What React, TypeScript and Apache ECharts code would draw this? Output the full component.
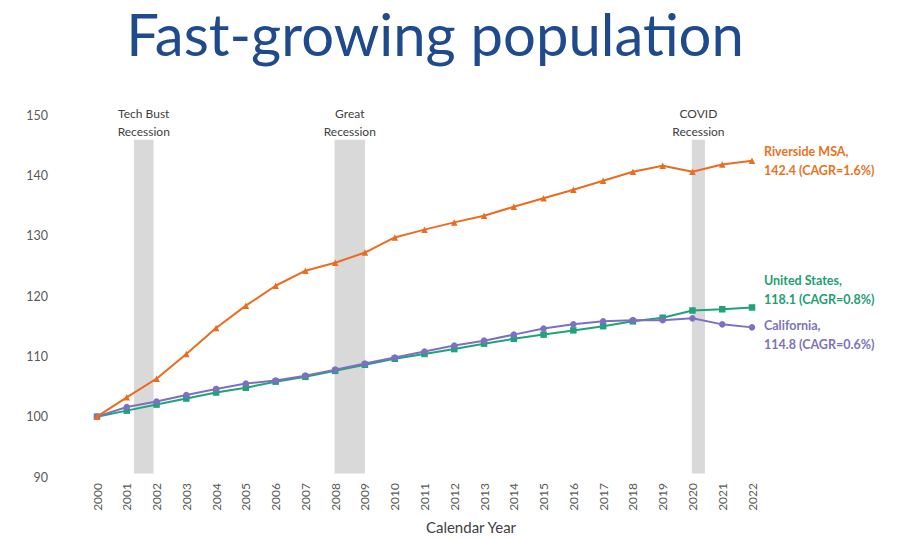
import React, { useEffect, useRef } from "react";
import * as echarts from "echarts";

const years = [2000, 2001, 2002, 2003, 2004, 2005, 2006, 2007, 2008, 2009, 2010, 2011, 2012, 2013, 2014, 2015, 2016, 2017, 2018, 2019, 2020, 2021, 2022];
const riverside = [100, 103.2, 106.3, 110.4, 114.7, 118.4, 121.7, 124.2, 125.5, 127.2, 129.7, 131.0, 132.2, 133.3, 134.8, 136.2, 137.6, 139.1, 140.6, 141.6, 140.6, 141.8, 142.4];
const unitedStates = [100, 101.0, 102.0, 103.0, 104.0, 104.8, 105.8, 106.6, 107.6, 108.6, 109.6, 110.4, 111.2, 112.1, 112.9, 113.6, 114.3, 115.0, 115.8, 116.4, 117.6, 117.8, 118.1];
const california = [100, 101.6, 102.5, 103.6, 104.6, 105.5, 106.0, 106.8, 107.8, 108.8, 109.8, 110.8, 111.8, 112.6, 113.6, 114.6, 115.3, 115.8, 116.0, 116.0, 116.3, 115.3, 114.8];
const yTicks = { min: 90, max: 150, interval: 10 };
const recessions = [
  { name: "Tech Bust\nRecession", from: 2001.24, to: 2001.9 },
  { name: "Great\nRecession", from: 2007.98, to: 2009.0 },
  { name: "COVID\nRecession", from: 2019.98, to: 2020.42 },
];
const bandRange = [90.6, 145.9];
const seriesLabels = [
  { name: "Riverside MSA,", value: "142.4 (CAGR=1.6%)" },
  { name: "United States,", value: "118.1 (CAGR=0.8%)" },
  { name: "California,", value: "114.8 (CAGR=0.6%)" },
];

const pairs = (vals: number[]) => years.map((y, i) => [y, vals[i]]);

export default function App() {
  const ref = useRef<HTMLDivElement>(null);
  useEffect(() => {
    if (!ref.current) return;
    const chart = echarts.init(ref.current, null, { renderer: "svg" });
    const font = "Lato, 'Open Sans', sans-serif";
    const endLabel = (idx: number, color: string, offset: number[]) => ({
      show: true,
      formatter: () => `${seriesLabels[idx].name}\n${seriesLabels[idx].value}`,
      color,
      fontFamily: font,
      fontWeight: "bold",
      fontSize: 12.5,
      lineHeight: 19,
      distance: 12,
      offset,
    });
    chart.setOption({
      animation: false,
      backgroundColor: "#ffffff",
      title: [
        {
          text: "Fast-growing population",
          left: 435,
          top: 0,
          padding: 0,
          textAlign: "center",
          textStyle: { fontFamily: font, fontSize: 58, lineHeight: 66, fontWeight: "normal", color: "#1F4A8C" },
        },
        {
          text: "Calendar Year",
          left: 466,
          top: 514,
          textAlign: "center",
          textStyle: { fontFamily: font, fontSize: 15, fontWeight: "normal", color: "#404040" },
        },
      ],
      grid: { left: 97, right: 151, top: 115, bottom: 61, containLabel: false },
      xAxis: {
        type: "value",
        min: years[0],
        max: years[years.length - 1],
        interval: 1,
        axisLine: { show: false },
        axisTick: { show: false },
        splitLine: { show: false },
        axisLabel: {
          rotate: 90,
          margin: 6,
          fontFamily: font,
          fontSize: 12,
          color: "#595959",
          formatter: (v: number) => String(v),
        },
      },
      yAxis: {
        type: "value",
        min: yTicks.min,
        max: yTicks.max,
        interval: yTicks.interval,
        axisLine: { show: false },
        axisTick: { show: false },
        splitLine: { show: false },
        axisLabel: { margin: 49, fontFamily: font, fontSize: 12.5, color: "#595959" },
      },
      series: [
        {
          name: "Recessions",
          type: "line",
          data: [],
          markArea: {
            silent: true,
            itemStyle: { color: "#D9D9D9" },
            label: {
              show: true,
              position: "top",
              distance: -1,
              color: "#404040",
              fontFamily: font,
              fontSize: 12,
              lineHeight: 18,
            },
            data: recessions.map((r) => [
              { name: r.name, coord: [r.from, bandRange[0]] },
              { coord: [r.to, bandRange[1]] },
            ]),
          },
        },
        {
          name: "United States",
          type: "line",
          data: pairs(unitedStates),
          symbol: "rect",
          symbolSize: 6.5,
          lineStyle: { width: 2, color: "#21A27A" },
          itemStyle: { color: "#21A27A" },
          endLabel: endLabel(1, "#1E9E72", [0, -17]),
          z: 3,
        },
        {
          name: "California",
          type: "line",
          data: pairs(california),
          symbol: "circle",
          symbolSize: 6.5,
          lineStyle: { width: 2, color: "#7C70C4" },
          itemStyle: { color: "#7C70C4" },
          endLabel: endLabel(2, "#7D73B9", [0, 8]),
          z: 4,
        },
        {
          name: "Riverside MSA",
          type: "line",
          data: pairs(riverside),
          symbol: "triangle",
          symbolSize: 6.5,
          lineStyle: { width: 2, color: "#EC6C1F" },
          itemStyle: { color: "#EC6C1F" },
          endLabel: endLabel(0, "#E8731E", [0, 0]),
          z: 5,
        },
      ],
    });
    return () => chart.dispose();
  }, []);
  return <div ref={ref} style={{ width: 903, height: 538, position: "absolute", left: 0, top: 0 }} />;
}
